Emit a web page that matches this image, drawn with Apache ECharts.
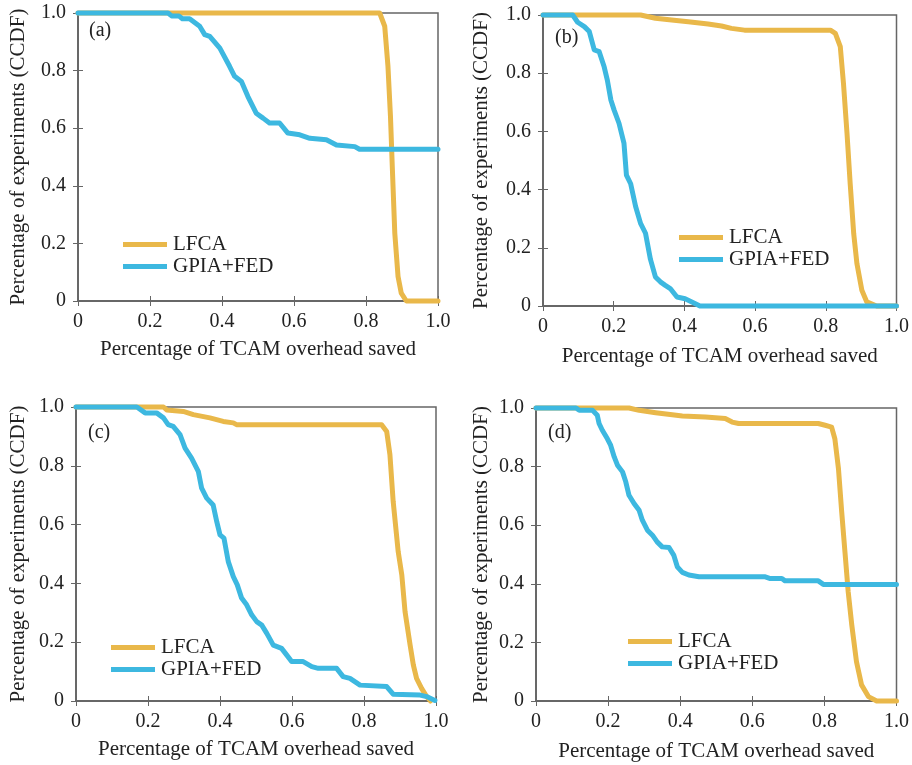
<!DOCTYPE html>
<html><head><meta charset="utf-8">
<script src="https://cdn.jsdelivr.net/npm/echarts@6/dist/echarts.min.js"></script>
<style>html,body{margin:0;padding:0;background:#fff}#c{width:912px;height:765px}</style>
</head><body><div id="c"></div>
<script>
const panelLabels = ['(a)', '(b)', '(c)', '(d)'];
const seriesNames = ['LFCA', 'GPIA+FED'];
const xTicks = [0, 0.2, 0.4, 0.6, 0.8, 1.0];
const yTicks = [0, 0.2, 0.4, 0.6, 0.8, 1.0];
const xTitle = 'Percentage of TCAM overhead saved';
const yTitle = 'Percentage of experiments (CCDF)';

const aLFCA = [[0,1],[0.838,1],[0.852,0.954],[0.861,0.815],[0.868,0.64],[0.873,0.467],[0.88,0.235],[0.889,0.085],[0.898,0.027],[0.912,0],[1,0]];
const aGPIA = [[0,1],[0.25,1],[0.26,0.99],[0.28,0.99],[0.29,0.98],[0.31,0.98],[0.338,0.954],[0.352,0.925],[0.366,0.919],[0.394,0.878],[0.421,0.815],[0.435,0.78],[0.454,0.762],[0.472,0.71],[0.495,0.652],[0.514,0.635],[0.532,0.618],[0.56,0.618],[0.583,0.583],[0.616,0.577],[0.644,0.565],[0.69,0.56],[0.718,0.542],[0.769,0.536],[0.782,0.527],[1,0.527]];

const bLFCA = [[0,1],[0.276,1],[0.318,0.989],[0.364,0.983],[0.411,0.977],[0.467,0.969],[0.505,0.962],[0.533,0.954],[0.57,0.948],[0.813,0.948],[0.827,0.937],[0.841,0.891],[0.85,0.765],[0.86,0.593],[0.869,0.42],[0.879,0.248],[0.888,0.146],[0.902,0.054],[0.916,0.014],[0.944,0],[1,0]];
const bGPIA = [[0,1],[0.084,1],[0.098,0.975],[0.117,0.96],[0.131,0.943],[0.145,0.88],[0.159,0.874],[0.173,0.822],[0.182,0.776],[0.192,0.708],[0.201,0.674],[0.215,0.628],[0.229,0.56],[0.236,0.45],[0.248,0.42],[0.262,0.342],[0.276,0.284],[0.29,0.25],[0.304,0.16],[0.318,0.1],[0.332,0.083],[0.346,0.071],[0.36,0.06],[0.379,0.031],[0.402,0.025],[0.421,0.014],[0.444,0],[1,0]];

const cLFCA = [[0,1],[0.243,1],[0.252,0.99],[0.298,0.985],[0.326,0.974],[0.372,0.963],[0.409,0.951],[0.437,0.946],[0.446,0.94],[0.849,0.94],[0.863,0.917],[0.872,0.838],[0.881,0.679],[0.895,0.508],[0.905,0.429],[0.914,0.304],[0.928,0.191],[0.937,0.123],[0.946,0.077],[0.96,0.043],[0.974,0.015],[0.985,0]];
const cGPIA = [[0,1],[0.169,1],[0.192,0.98],[0.224,0.98],[0.243,0.963],[0.256,0.94],[0.27,0.934],[0.289,0.906],[0.303,0.86],[0.321,0.826],[0.34,0.78],[0.349,0.724],[0.363,0.69],[0.381,0.667],[0.391,0.61],[0.4,0.565],[0.411,0.554],[0.423,0.474],[0.437,0.423],[0.448,0.395],[0.46,0.35],[0.474,0.327],[0.488,0.293],[0.502,0.27],[0.516,0.258],[0.53,0.23],[0.548,0.19],[0.571,0.179],[0.585,0.157],[0.599,0.134],[0.631,0.134],[0.655,0.117],[0.673,0.111],[0.724,0.111],[0.742,0.083],[0.761,0.077],[0.789,0.054],[0.863,0.049],[0.881,0.023],[0.956,0.02],[0.974,0.015],[0.997,0.002]];

const dLFCA = [[0,1],[0.258,1],[0.286,0.992],[0.332,0.984],[0.378,0.977],[0.406,0.973],[0.47,0.969],[0.525,0.964],[0.544,0.952],[0.562,0.947],[0.783,0.947],[0.802,0.941],[0.82,0.935],[0.829,0.895],[0.839,0.793],[0.848,0.645],[0.857,0.509],[0.866,0.373],[0.876,0.259],[0.889,0.134],[0.903,0.055],[0.922,0.015],[0.945,0],[1,0]];
const dGPIA = [[0,1],[0.111,1],[0.12,0.992],[0.157,0.992],[0.17,0.975],[0.175,0.947],[0.184,0.924],[0.198,0.895],[0.207,0.873],[0.217,0.833],[0.226,0.805],[0.24,0.782],[0.249,0.748],[0.258,0.702],[0.272,0.674],[0.286,0.651],[0.295,0.617],[0.309,0.583],[0.323,0.566],[0.336,0.543],[0.35,0.526],[0.369,0.524],[0.382,0.498],[0.392,0.458],[0.406,0.439],[0.424,0.43],[0.452,0.424],[0.636,0.424],[0.65,0.418],[0.682,0.418],[0.691,0.41],[0.783,0.41],[0.797,0.398],[1,0.398]];

const panels = [[aLFCA, aGPIA], [bLFCA, bGPIA], [cLFCA, cGPIA], [dLFCA, dGPIA]];

// layout
const grids = [
  {left: 78, top: 13, width: 360, height: 288},
  {left: 543, top: 15, width: 356, height: 291},
  {left: 76, top: 407, width: 360, height: 294},
  {left: 536, top: 408, width: 362, height: 293}
];
const xNameGap = [38, 40, 38, 40];
const yNameGap = [49, 51, 47, 44];
const labelPos = [[89, 21], [555, 28], [88, 423], [548, 423]];
const legendPos = [[123, 234], [679, 227], [111, 637], [628, 631]];

const FONT = '"Liberation Serif", "DejaVu Serif", serif';
const COLORS = ['#E9B84A', '#3DB8E0'];
const AXC = '#666';
const fmt = v => v === 0 ? '0' : v.toFixed(1);

const option = {
  animation: false,
  backgroundColor: '#fff',
  grid: grids.map(g => Object.assign({show: true, borderColor: AXC, borderWidth: 1.5, backgroundColor: 'transparent'}, g)),
  title: panelLabels.map((t, i) => ({
    text: t, left: labelPos[i][0], top: labelPos[i][1], padding: 0,
    textStyle: {fontFamily: FONT, fontSize: 20, fontWeight: 'normal', color: '#222'}
  })),
  legend: legendPos.map(p => ({
    data: seriesNames, orient: 'vertical', left: p[0], top: p[1],
    icon: 'rect', itemWidth: 44, itemHeight: 5, itemGap: 1, padding: [0, 4, 0, 0],
    backgroundColor: '#fff',
    textStyle: {fontFamily: FONT, fontSize: 21, color: '#222', lineHeight: 21, padding: [0, 0, 0, 1]}
  })),
  xAxis: [],
  yAxis: [],
  series: []
};

grids.forEach((g, i) => {
  const common = {type: 'value', min: 0, max: 1, interval: 0.2, gridIndex: i, splitLine: {show: false}};
  option.xAxis.push(Object.assign({}, common, {
    position: 'bottom',
    name: xTitle, nameLocation: 'middle', nameGap: xNameGap[i],
    nameTextStyle: {fontFamily: FONT, fontSize: 21, color: '#222'},
    axisLine: {show: true, lineStyle: {color: AXC, width: 1.5}},
    axisTick: {show: true, inside: true, length: 5, lineStyle: {color: AXC}},
    axisLabel: {fontFamily: FONT, fontSize: 20, color: '#222', margin: 11, formatter: fmt, showMinLabel: true, showMaxLabel: true}
  }));
  option.xAxis.push(Object.assign({}, common, {
    position: 'top',
    axisLine: {show: true, lineStyle: {color: AXC, width: 1.5}},
    axisTick: {show: true, inside: true, length: 5, lineStyle: {color: AXC}},
    axisLabel: {show: false}
  }));
  option.yAxis.push(Object.assign({}, common, {
    position: 'left',
    name: yTitle, nameLocation: 'middle', nameGap: yNameGap[i], nameRotate: 90,
    nameTextStyle: {fontFamily: FONT, fontSize: 21, color: '#222'},
    axisLine: {show: true, lineStyle: {color: AXC, width: 1.5}},
    axisTick: {show: true, inside: true, length: 5, lineStyle: {color: AXC}},
    axisLabel: {fontFamily: FONT, fontSize: 20, color: '#222', margin: 12, formatter: fmt, showMinLabel: true, showMaxLabel: true}
  }));
  option.yAxis.push(Object.assign({}, common, {
    position: 'right',
    axisLine: {show: true, lineStyle: {color: AXC, width: 1.5}},
    axisTick: {show: true, inside: true, length: 5, lineStyle: {color: AXC}},
    axisLabel: {show: false}
  }));
  panels[i].forEach((data, k) => {
    option.series.push({
      type: 'line', name: seriesNames[k], data: data,
      xAxisIndex: 2 * i, yAxisIndex: 2 * i,
      showSymbol: false, symbol: 'none', clip: false,
      color: COLORS[k],
      lineStyle: {color: COLORS[k], width: 5, join: 'round', cap: 'round'},
      z: 2 + k
    });
  });
});

const chart = echarts.init(document.getElementById('c'), null, {renderer: 'canvas'});
chart.setOption(option);
</script>
</body></html>
